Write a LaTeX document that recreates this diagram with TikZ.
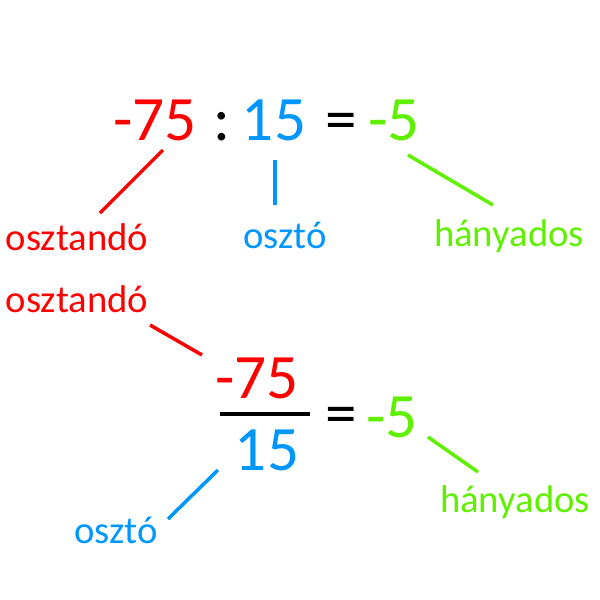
\documentclass[tikz,border=0pt]{standalone}
\usepackage{fontspec}
\setmainfont{Carlito}
\definecolor{divred}{RGB}{255,0,0}
\definecolor{divblue}{RGB}{0,150,255}
\definecolor{divgreen}{RGB}{95,240,0}

\begin{document}
\begin{tikzpicture}[
    x=0.02cm, y=-0.02cm,
    num/.style={inner sep=0pt,anchor=base,font=\fontsize{36}{40}\selectfont},
    lbl/.style={inner sep=0pt,anchor=base,font=\fontsize{22}{26}\selectfont},
    tick/.style={line width=2pt}
    ]

    \useasboundingbox (0,0) rectangle (600,600);

    % colon form
    \node(a1) [num,divred] at (155,140) {-75};
    \node(c1) [num] at (222,140) {:};
    \node(b1) [num,divblue] at (274,140) {15};
    \node(e1) [num] at (341,140) {=};
    \node(q1) [num,divgreen] at (394,140) {-5};

    \node(la1) [lbl,divred] at (77,250) {osztandó};
    \node(lb1) [lbl,divblue] at (285,248) {osztó};
    \node(lq1) [lbl,divgreen] at (509,246) {hányados};

    \coordinate (ta1) at (163,150);
    \coordinate (ua1) at (100,213);
    \coordinate (tb1) at (275,160);
    \coordinate (ub1) at (275,205);
    \coordinate (tq1) at (408,155);
    \coordinate (uq1) at (493,205);

    \draw[tick,divred] (ta1) -- (ua1);
    \draw[tick,divblue] (tb1) -- (ub1);
    \draw[tick,divgreen] (tq1) -- (uq1);

    % fraction form
    \node(la2) [lbl,divred] at (77,312) {osztandó};
    \node(a2) [num,divred] at (257,398) {-75};
    \node(b2) [num,divblue] at (267,470) {15};
    \node(e2) [num] at (341,434) {=};
    \node(q2) [num,divgreen] at (392,437) {-5};
    \node(lq2) [lbl,divgreen] at (515,512) {hányados};
    \node(lb2) [lbl,divblue] at (116,543) {osztó};

    \coordinate (bl) at (220,414);
    \coordinate (br) at (310,414);
    \draw[tick] (bl) -- (br);

    \coordinate (ta2) at (150,325);
    \coordinate (ua2) at (202,355);
    \coordinate (tb2) at (218,470);
    \coordinate (ub2) at (168,519);
    \coordinate (tq2) at (428,437);
    \coordinate (uq2) at (478,472);

    \draw[tick,divred] (ta2) -- (ua2);
    \draw[tick,divblue] (tb2) -- (ub2);
    \draw[tick,divgreen] (tq2) -- (uq2);

\end{tikzpicture}
\end{document}
